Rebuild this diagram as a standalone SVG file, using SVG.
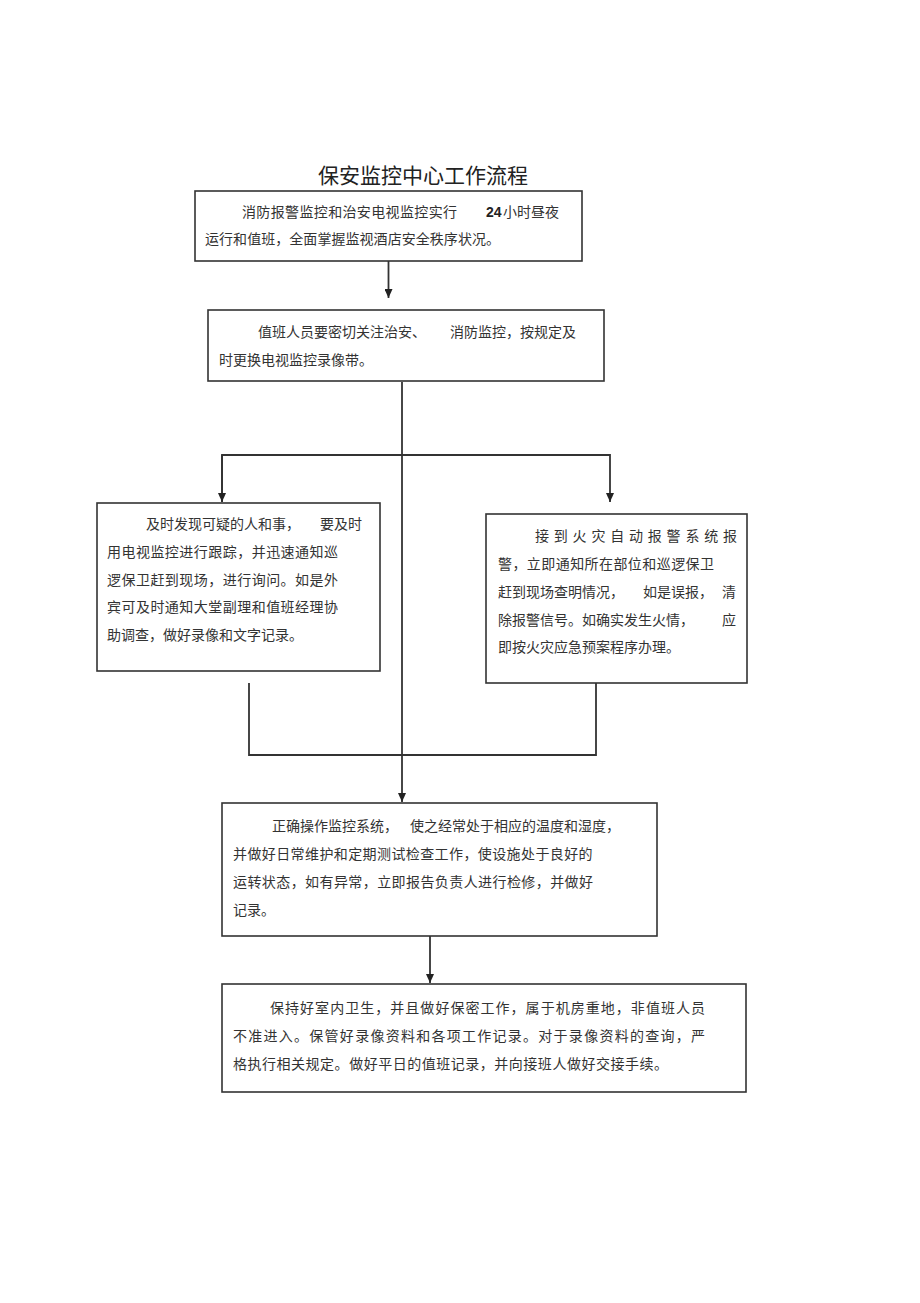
<svg xmlns="http://www.w3.org/2000/svg" width="920" height="1303" viewBox="0 0 920 1303">
<style>
.box{fill:#fff;stroke:#333;stroke-width:1.6}
.t{font-family:"Noto Sans CJK SC",sans-serif;font-size:14px;fill:#333}
.title{font-family:"Noto Sans CJK SC",sans-serif;font-size:21px;fill:#222}
.b{font-family:"Liberation Sans",sans-serif;font-weight:bold;font-size:14px;fill:#222}
.c{fill:none;stroke:#333;stroke-width:1.8}
</style>
<defs>
<marker id="ah" markerUnits="userSpaceOnUse" markerWidth="9" markerHeight="8" refX="9" refY="4" orient="auto">
<path d="M0,0 L9,4 L0,8 z" fill="#222"/>
</marker>
</defs>
<rect width="920" height="1303" fill="#fff"/>
<text class="title" x="318" y="183" textLength="210" lengthAdjust="spacing">保安监控中心工作流程</text>
<g id="connectors">
<line class="c" x1="388.5" y1="261" x2="388.5" y2="298" marker-end="url(#ah)"/>
<line class="c" x1="402" y1="382" x2="402" y2="802" marker-end="url(#ah)"/>
<polyline class="c" points="222,502 222,455 610,455 610,502" marker-end="url(#ah)"/>
<line class="c" x1="222" y1="455" x2="222" y2="502" marker-end="url(#ah)"/>
<polyline class="c" points="249,683 249,755 596,755 596,683"/>
<line class="c" x1="430" y1="936" x2="430" y2="983" marker-end="url(#ah)"/>
</g>
<g id="n1">
<rect class="box" x="195" y="191" width="387" height="70"/>
<text class="t" x="242" y="217" textLength="215" lengthAdjust="spacing">消防报警监控和治安电视监控实行</text>
<text class="b" x="486" y="217">24</text>
<text class="t" x="503" y="217">小时昼夜</text>
<text class="t" x="205" y="244" textLength="295" lengthAdjust="spacing">运行和值班，全面掌握监视酒店安全秩序状况。</text>
</g>
<g id="n2">
<rect class="box" x="208" y="310" width="396" height="71"/>
<text class="t" y="337"><tspan x="258">值班人员要密切关注治安、</tspan><tspan x="450">消防监控，按规定及</tspan></text>
<text class="t" x="219" y="365">时更换电视监控录像带。</text>
</g>
<g id="n3">
<rect class="box" x="97" y="503" width="283" height="168"/>
<text class="t" y="529"><tspan x="146">及时发现可疑的人和事，</tspan><tspan x="320">要及时</tspan></text>
<text class="t" x="107" y="557" textLength="231" lengthAdjust="spacing">用电视监控进行跟踪，并迅速通知巡</text>
<text class="t" x="107" y="585" textLength="231" lengthAdjust="spacing">逻保卫赶到现场，进行询问。如是外</text>
<text class="t" x="107" y="612" textLength="231" lengthAdjust="spacing">宾可及时通知大堂副理和值班经理协</text>
<text class="t" x="107" y="640">助调查，做好录像和文字记录。</text>
</g>
<g id="n4">
<rect class="box" x="486" y="514" width="261" height="169"/>
<text class="t" x="535" y="541" textLength="202" lengthAdjust="spacing">接到火灾自动报警系统报</text>
<text class="t" x="498" y="569" textLength="216" lengthAdjust="spacing">警，立即通知所在部位和巡逻保卫</text>
<text class="t" y="597"><tspan x="498">赶到现场查明情况，</tspan><tspan x="643">如是误报，</tspan><tspan x="722">清</tspan></text>
<text class="t" y="625"><tspan x="498">除报警信号。如确实发生火情，</tspan><tspan x="722">应</tspan></text>
<text class="t" x="498" y="652">即按火灾应急预案程序办理。</text>
</g>
<g id="n5">
<rect class="box" x="222" y="803" width="435" height="133"/>
<text class="t" y="831"><tspan x="272">正确操作监控系统，</tspan><tspan x="410">使之经常处于相应的温度和湿度，</tspan></text>
<text class="t" x="233" y="859" fill="#333" letter-spacing="0.4">并做好日常维护和定期<tspan fill="#333" style="fill:#333">测</tspan>试检查工作，使设施处于良好的</text>
<text class="t" x="233" y="887" textLength="360" lengthAdjust="spacing">运转状态，如有异常，立即报告负责人进行检修，并做好</text>
<text class="t" x="233" y="915">记录。</text>
</g>
<g id="n6">
<rect class="box" x="222" y="984" width="524" height="108"/>
<text class="t" x="270" y="1013" textLength="435" lengthAdjust="spacing">保持好室内卫生，并且做好保密工作，属于机房重地，非值班人员</text>
<text class="t" x="233" y="1041" textLength="472" lengthAdjust="spacing">不准进入。保管好录像资料和各项工作记录。对于录像资料的查询，严</text>
<text class="t" x="233" y="1069" textLength="435" lengthAdjust="spacing">格执行相关规定。做好平日的值班记录，并向接班人做好交接手续。</text>
</g>
</svg>
